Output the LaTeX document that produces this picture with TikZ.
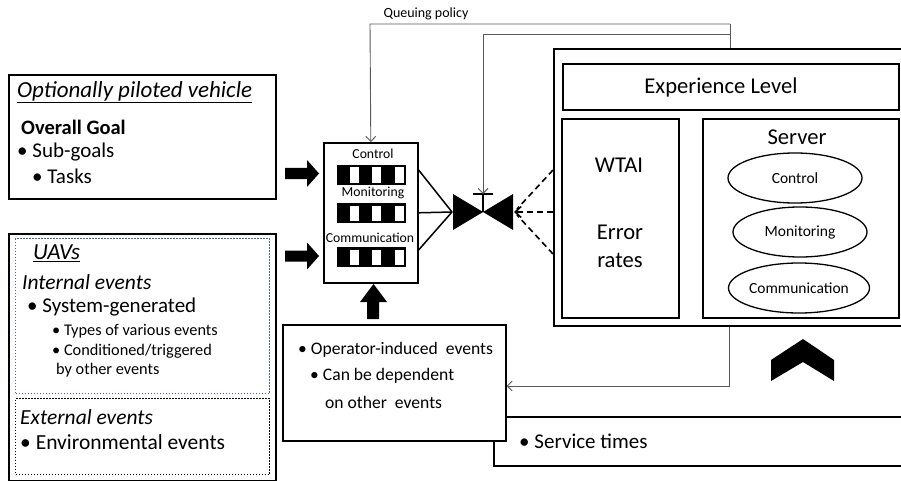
\documentclass[tikz,border=0pt]{standalone}
\usepackage{fontspec}
\setmainfont{Carlito}
\usetikzlibrary{arrows.meta,shapes.geometric}
\newcommand{\fsz}[1]{\fontsize{#1}{#1}\selectfont}
\definecolor{slatedot}{RGB}{85,105,135}
\tikzset{
  box/.style={draw, line width=1.6pt, fill=white, inner sep=0pt, anchor=north west},
  dotbox/.style={draw, line width=1.4pt, dash pattern=on 1.4pt off 1.6pt, inner sep=0pt, anchor=north west},
  txt/.style={anchor=west, inner sep=0pt},
  ctxt/.style={anchor=center, inner sep=0pt},
  conn/.style={draw=black!65, line width=0.9pt},
  barb/.style={-{Straight Barb[length=5pt,width=10pt,line width=0.9pt]}},
  dashconn/.style={draw, line width=1.6pt, dash pattern=on 6pt off 4pt},
  oval/.style={draw, ellipse, line width=1.3pt, inner sep=0pt, minimum width=134pt, minimum height=50pt, font=\fsz{15.5}},
  thick line/.style={line width=1.5pt},
}
\begin{document}
\begin{tikzpicture}[x=1pt,y=-1pt]
\useasboundingbox (0,0) rectangle (901,481);
\clip (0,0) rectangle (901,481);

% ---------- left column: vehicle and event sources ----------
\node[box, minimum width=267pt, minimum height=124pt] (opv) at (8,74) {};
\node[txt, font=\fsz{23}\itshape] (opvT) at (17,92) {\underline{Optionally piloted vehicle}};
\node[txt, font=\fsz{20.5}\bfseries] (goal) at (21,127) {Overall Goal};
\node[txt, font=\fsz{21}] (sub) at (17,152) {• Sub-goals};
\node[txt, font=\fsz{21}] (task) at (32,176) {• Tasks};

\node[box, minimum width=267pt, minimum height=247pt] (uav) at (8,233) {};
\node[dotbox, draw=slatedot, minimum width=254pt, minimum height=155pt] (intbox) at (15,238) {};
\node[dotbox, minimum width=254pt, minimum height=76pt] (extbox) at (15,398) {};
\node[txt, font=\fsz{23}\itshape] (uavT) at (33,253) {\underline{UAVs}};
\node[txt, font=\fsz{21.5}\itshape] (intT) at (22,282) {Internal events};
\node[txt, font=\fsz{21}] (sysg) at (27,307) {• System-generated};
\node[txt, font=\fsz{16.3}] (types) at (52,331) {• Types of various events};
\node[txt, font=\fsz{16.3}] (cond) at (52,351) {• Conditioned/triggered};
\node[txt, font=\fsz{16.3}] (cond2) at (56,370) {by other events};
\node[txt, font=\fsz{21.5}\itshape] (extT) at (20,417) {External events};
\node[txt, font=\fsz{21.5}] (env) at (20,442) {• Environmental events};

% ---------- fat arrows into the queue ----------
\fill (285,168) -- (307,168) -- (307,160) -- (319,173.5) -- (307,187) -- (307,179) -- (285,179) -- cycle;
\fill (285,250.5) -- (307,250.5) -- (307,242.5) -- (319,256) -- (307,269.5) -- (307,261.5) -- (285,261.5) -- cycle;

% ---------- queue box with three buffers ----------
\node[box, minimum width=94pt, minimum height=140pt] (queue) at (323,142) {};
\node[ctxt, font=\fsz{13.7}] (qc) at (373,154) {Control};
\node[ctxt, font=\fsz{13.7}] (qm) at (373,193) {Monitoring};
\node[ctxt, font=\fsz{13.7}] (qk) at (370,238) {Communication};
\foreach \yy in {165,203,247} {
  \fill (337,\yy) rectangle (406,\yy+20);
  \fill[white] (350,\yy+2.5) rectangle (359,\yy+17.5);
  \fill[white] (372,\yy+2.5) rectangle (381,\yy+17.5);
  \fill[white] (395,\yy+2.5) rectangle (404,\yy+17.5);
}

% ---------- valve ----------
\coordinate (valveL) at (452,212);
\coordinate (valveC) at (483,212);
\coordinate (valveR) at (514,212);
\coordinate (valveT) at (483,194);
\fill (453,194) -- (valveC) -- (453,230) -- cycle;
\fill (513,194) -- (valveC) -- (513,230) -- cycle;
\draw[thick line] (valveC) -- (valveT);
\draw[thick line] (473,194) -- (493,194);

\draw[thick line] (queue.east |- 0,170) -- (valveL);
\draw[thick line] (queue.east) -- (valveL);
\draw[thick line] (queue.east |- 0,250) -- (valveL);

% ---------- operator / service boxes ----------
\node[box, minimum width=420pt, minimum height=49pt] (serv) at (493,416) {};
\node[txt, font=\fsz{21}] (servT) at (519,441) {• Service times};
\node[box, minimum width=223pt, minimum height=116pt] (opbox) at (282,324) {};
\node[txt, font=\fsz{17.6}] (op1) at (298,350) {• Operator-induced\ \ events};
\node[txt, font=\fsz{17.6}] (op2) at (310,376) {• Can be dependent};
\node[txt, font=\fsz{17.6}] (op3) at (325,402) {on other\ \ events};

% up arrow from operator box into queue
\fill (367,319) -- (367,302) -- (360,302) -- (373.5,284) -- (387,302) -- (379,302) -- (379,319) -- cycle;

% ---------- operator model ----------
\node[box, minimum width=360pt, minimum height=277pt] (xbox) at (553,48) {};
\node[box, minimum width=336pt, minimum height=46pt] (exp) at (562,63) {};
\node[ctxt, font=\fsz{22.6}] (expT) at (721,87) {Experience Level};
\node[box, minimum width=117pt, minimum height=199pt] (wtai) at (561,118) {};
\node[ctxt, font=\fsz{22.6}] (wtaiT) at (619,165) {WTAI};
\node[ctxt, font=\fsz{22.6}] (errT) at (620,232) {Error};
\node[ctxt, font=\fsz{22.6}] (rateT) at (620,260) {rates};
\node[box, minimum width=196pt, minimum height=199pt] (server) at (702,118) {};
\node[ctxt, font=\fsz{22.6}] (serverT) at (797,137) {Server};
\node[oval] (sc) at (795,178) {Control};
\node[oval] (sm) at (800,232) {Monitoring};
\node[oval] (sk) at (799,288) {Communication};

% chevron under the model
\fill (771,360) -- (803,339) -- (834,360) -- (834,381) -- (803,362) -- (771,381) -- cycle;

% ---------- dashed feedback from the model to the valve ----------
\draw[dashconn, -{Straight Barb[length=6pt,width=11pt,line width=1.6pt]}] (xbox.west |- valveC) -- (valveR);
\draw[dashconn] (xbox.west |- 0,170) -- (517,209);
\draw[dashconn] (xbox.west |- 0,254) -- (517,215);

% ---------- control lines ----------
\coordinate (qpR) at (730,24);
\coordinate (qpL) at (370,24);
\coordinate (vpR) at (730,34);
\coordinate (vpL) at (483,34);
\coordinate (fbR) at (729,386);
\draw[conn] (xbox.north -| qpR) -- (qpR);
\draw[conn, barb] (qpR) -- (qpL) -- (queue.north);
\draw[conn, barb] (vpR) -- (vpL) -- (valveT);
\draw[conn, barb] (xbox.south -| fbR) -- (fbR) -- (fbR -| opbox.east);
\node[ctxt, font=\fsz{14}] (qpT) at (426,14) {Queuing policy};
\end{tikzpicture}
\end{document}
